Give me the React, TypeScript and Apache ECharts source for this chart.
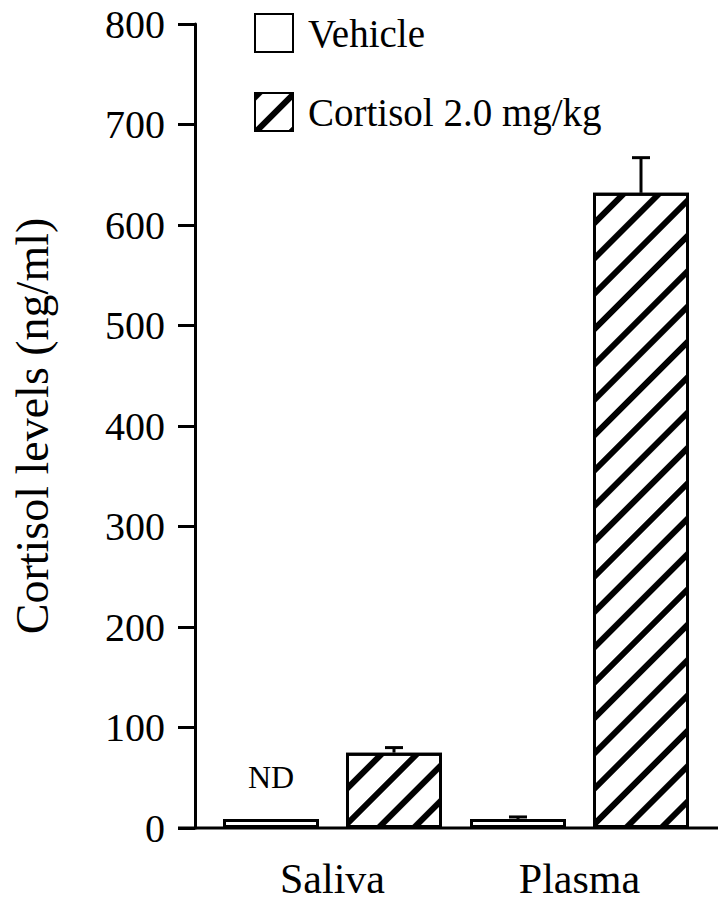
import React, { useEffect, useRef } from 'react';
import * as echarts from 'echarts';

// ---- data ----
const categories = ['Saliva', 'Plasma'];
const seriesNames = ['Vehicle', 'Cortisol 2.0 mg/kg'];
const vehicleMean = [9, 9];
const vehicleErr: (number | null)[] = [null, 2];
const cortisolMean = [75, 632];
const cortisolErr = [5, 35];
const yMin = 0;
const yMax = 800;
const yInterval = 100;
const ndLabel = 'ND';
const yAxisTitle = 'Cortisol levels (ng/ml)';

// ---- style constants ----
const FONT = 'Liberation Serif, serif';
const BAR_W = 96;
const BAR_GAP_PX = 27;
const CAP_W = 18;
const LW = 3;

export default function App() {
  const ref = useRef<HTMLDivElement>(null);
  useEffect(() => {
    if (!ref.current) return;
    const chart = echarts.init(ref.current, undefined, { renderer: 'svg' });

    const errData: number[][] = [];
    vehicleMean.forEach((m, i) => {
      const e = vehicleErr[i];
      if (e != null) errData.push([i, m, e, -1]);
    });
    cortisolMean.forEach((m, i) => {
      const e = cortisolErr[i];
      if (e != null) errData.push([i, m, e, 1]);
    });

    const hatch = {
      symbol: 'rect',
      symbolSize: 1,
      dashArrayX: [1, 0],
      dashArrayY: [6, 19],
      rotation: -Math.PI / 4,
      color: '#000',
      backgroundColor: '#fff',
    };

    chart.setOption({
      animation: false,
      backgroundColor: '#fff',
      textStyle: { fontFamily: FONT },
      grid: { left: 209, right: 25, top: 24, bottom: 78 },
      legend: {
        data: seriesNames,
        orient: 'vertical',
        left: 254,
        top: 13,
        padding: 0,
        itemWidth: 38,
        itemHeight: 38,
        itemGap: 39,
        icon: 'rect',
        textStyle: {
          fontFamily: FONT,
          fontSize: 39,
          color: '#000',
          lineHeight: 38,
          padding: [0, 0, 0, 10],
        },
      },
      xAxis: {
        type: 'category',
        data: categories,
        axisLine: { show: false },
        axisTick: { show: false },
        axisLabel: {
          fontFamily: FONT,
          fontSize: 42,
          color: '#000',
          margin: 30,
        },
      },
      yAxis: {
        type: 'value',
        min: yMin,
        max: yMax,
        interval: yInterval,
        offset: 14,
        name: yAxisTitle,
        nameLocation: 'middle',
        nameGap: 140,
        nameTextStyle: { fontFamily: FONT, fontSize: 46, color: '#000' },
        splitLine: { show: false },
        axisLine: { show: true, lineStyle: { color: '#000', width: LW } },
        axisTick: { show: true, length: 17, lineStyle: { color: '#000', width: LW } },
        axisLabel: { fontFamily: FONT, fontSize: 40, color: '#000', margin: 30 },
      },
      graphic: [
        {
          type: 'line',
          shape: { x1: 178, y1: 828, x2: 718, y2: 828 },
          style: { stroke: '#000', lineWidth: LW },
          z: 100,
        },
      ],
      series: [
        {
          name: seriesNames[0],
          type: 'bar',
          barWidth: BAR_W,
          barGap: (BAR_GAP_PX / BAR_W) * 100 + '%',
          itemStyle: { color: '#fff', borderColor: '#000', borderWidth: LW },
          data: vehicleMean.map((v, i) =>
            i === 0
              ? {
                  value: v,
                  label: {
                    show: true,
                    formatter: ndLabel,
                    position: 'top',
                    distance: 26,
                    fontFamily: FONT,
                    fontSize: 32,
                    color: '#000',
                  },
                }
              : v
          ),
        },
        {
          name: seriesNames[1],
          type: 'bar',
          barWidth: BAR_W,
          barGap: (BAR_GAP_PX / BAR_W) * 100 + '%',
          itemStyle: { color: '#fff', borderColor: '#000', borderWidth: LW, decal: hatch },
          data: cortisolMean,
        },
        {
          type: 'custom',
          z: 10,
          data: errData,
          renderItem: (params: any, api: any) => {
            const cat = api.value(0);
            const mean = api.value(1);
            const err = api.value(2);
            const side = api.value(3);
            const base = api.coord([cat, mean]);
            const top = api.coord([cat, mean + err]);
            const x = base[0] + (side * (BAR_W + BAR_GAP_PX)) / 2;
            return {
              type: 'group',
              children: [
                {
                  type: 'line',
                  shape: { x1: x, y1: base[1], x2: x, y2: top[1] },
                  style: { stroke: '#000', lineWidth: LW },
                },
                {
                  type: 'line',
                  shape: { x1: x - CAP_W / 2, y1: top[1], x2: x + CAP_W / 2, y2: top[1] },
                  style: { stroke: '#000', lineWidth: LW },
                },
              ],
            };
          },
        },
      ],
    });
    return () => chart.dispose();
  }, []);
  return (
    <div
      ref={ref}
      style={{ position: 'absolute', left: 0, top: 0, width: 728, height: 906, background: '#fff' }}
    />
  );
}
